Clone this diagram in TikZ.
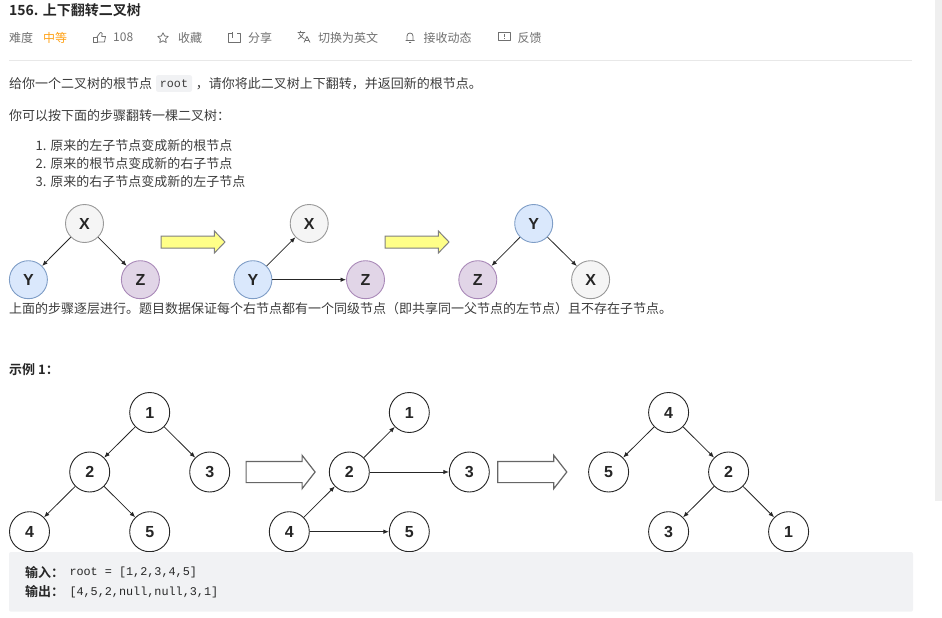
\documentclass[tikz,border=0pt]{standalone}
\usepackage{fontspec}
\setmainfont{Liberation Sans}
\setmonofont{Liberation Mono}
\newfontfamily\cjk{Noto Sans CJK SC}
\newfontfamily\cjkb{Noto Sans CJK SC Bold}
\usetikzlibrary{arrows.meta,positioning,shapes.arrows}
\definecolor{inkline}{HTML}{262626}
\definecolor{bodycol}{HTML}{3C3C3C}
\definecolor{metacol}{HTML}{707070}
\definecolor{easycol}{HTML}{FFA116}
\definecolor{rulecol}{HTML}{E8E8E8}
\definecolor{codefill}{HTML}{F1F2F4}
\definecolor{scrollcol}{HTML}{EFEFEF}
\definecolor{xfill}{HTML}{F5F5F5}
\definecolor{xline}{HTML}{999999}
\definecolor{yfill}{HTML}{DAE8FC}
\definecolor{yline}{HTML}{7E9DC6}
\definecolor{zfill}{HTML}{E1D5E7}
\definecolor{zline}{HTML}{A989B8}
\definecolor{yelfill}{HTML}{FFFF88}
\definecolor{yelline}{HTML}{7F7F7F}

\begin{document}
\begin{tikzpicture}[
  x=1pt, y=-1pt,
  >={Latex[length=5.5pt,width=4.5pt]},
  txt/.style={anchor=west, inner sep=0pt, font=\fontsize{13}{15}\selectfont\cjk, text=bodycol},
  meta/.style={txt, font=\fontsize{12}{15}\selectfont\cjk, text=metacol},
  boldtxt/.style={txt, font=\fontsize{13}{15}\selectfont\cjkb, text=inkline},
  mono/.style={txt, font=\fontsize{11.8}{14}\selectfont\ttfamily, text=inkline},
  icon/.style={draw=metacol, line width=0.8pt, line join=round},
  nx/.style={circle, draw=xline, fill=xfill, line width=0.9pt, minimum size=38pt, inner sep=0pt, font=\fontsize{16}{16}\selectfont\bfseries, text=inkline},
  ny/.style={nx, draw=yline, fill=yfill},
  nz/.style={nx, draw=zline, fill=zfill},
  num/.style={circle, draw=inkline, fill=white, line width=0.9pt, minimum size=40pt, inner sep=0pt, font=\fontsize{16}{16}\selectfont\bfseries, text=inkline},
  arr/.style={->, draw=inkline, line width=0.8pt},
  bigarr/.style={single arrow, anchor=tail, draw=yelline, fill=yelfill, line width=1pt, minimum height=64pt, inner xsep=0pt, inner ysep=5.5pt,
                 single arrow head extend=5pt, single arrow tip angle=92},
  hollowarr/.style={bigarr, draw=black!60, fill=white, line width=1.2pt, minimum height=69pt, inner ysep=10pt,
                 single arrow head extend=6pt, single arrow tip angle=104},
]
\useasboundingbox (0,0) rectangle (942,618);

% ---- header ----
\node[boldtxt, font=\fontsize{14}{16}\selectfont\cjkb] (title) at (9,10) {156. 上下翻转二叉树};
\node[meta] (lvl) at (9,37.7) {难度};
\node[meta, text=easycol] (med) at (43,37.7) {中等};
\node[meta] (likes) at (113,37.7) {108};
\node[meta] (fav) at (178,37.7) {收藏};
\node[meta] (share) at (248,37.7) {分享};
\node[meta] (lang) at (318,37.7) {切换为英文};
\node[meta] (sub) at (423.5,37.7) {接收动态};
\node[meta] (fb) at (517.5,37.7) {反馈};

% thumb
\draw[icon] (93.5,37) rectangle (97,42);
\draw[icon] (97,37) -- (100,32.8) -- (101,32.5) -- (102.2,33.5) -- (101.7,36.5) -- (105.5,36.5) -- (104.5,42) -- (97,42);
% star
\draw[icon] (163,32.8) -- (164.6,36) -- (168.2,36.5) -- (165.6,39) -- (166.2,42.5) -- (163,40.8) -- (159.8,42.5) -- (160.4,39) -- (157.8,36.5) -- (161.4,36) -- cycle;
% share
\draw[icon] (232.5,33.5) -- (228.5,33.5) -- (228.5,42) -- (240,42) -- (240,33.5) -- (236.5,33.5);
\draw[icon] (232.5,32.5) -- (232.5,38.5);
% translate
\draw[icon] (297.5,32.5) -- (305,32.5) (300.5,31) -- (300.5,32.5) (303.5,32.5) .. controls (302.5,36) and (300.5,38) .. (298,39) (299,33.5) .. controls (300,36) and (302,38) .. (304.5,39);
\draw[icon] (304,42.5) -- (307,36.5) -- (310,42.5) (305.2,40.5) -- (308.8,40.5);
% bell
\draw[icon] (407,40.5) -- (407,36) .. controls (407,32) and (413,32) .. (413,36) -- (413,40.5) (405.5,40.5) -- (414.5,40.5) (409,42.5) -- (411,42.5);
% feedback
\draw[icon] (498.5,32) -- (510,32) -- (510,40.5) -- (498.5,40.5) -- cycle;
\draw[icon] (504.2,34) -- (504.2,37) (504.2,38) -- (504.2,39);

\draw[rulecol, line width=0.8pt] (9,60.5) -- (912,60.5);

% ---- statement ----
\node[txt] (intro) at (9,84) {给你一个二叉树的根节点};
\node[fill=codefill, rounded corners=2pt, minimum width=36pt, minimum height=16.7pt, inner sep=0pt,
      font=\fontsize{11.7}{12}\selectfont\ttfamily, text=bodycol] (rootcode) at (174,83.5) {root};
\node[txt, right=3.5pt of rootcode] (intro2) {，请你将此二叉树上下翻转，并返回新的根节点。};
\node[txt] (steps) at (9,115.7) {你可以按下面的步骤翻转一棵二叉树：};
\node[txt] (s1) at (35.5,145.7) {1. 原来的左子节点变成新的根节点};
\node[txt] (s2) at (35.5,164) {2. 原来的根节点变成新的右子节点};
\node[txt] (s3) at (35.5,182) {3. 原来的右子节点变成新的左子节点};

% ---- XYZ trees ----
\node[nx] (ax) at (84.5,223.5) {X};
\node[ny] (ay) at (28.4,279.7) {Y};
\node[nz] (az) at (140.4,279.7) {Z};
\draw[arr] (ax) -- (ay);
\draw[arr] (ax) -- (az);
\node[bigarr] (y1) at (160.5,242) {};
\node[nx] (bx) at (309.2,223.5) {X};
\node[ny] (by) at (252.9,279.7) {Y};
\node[nz] (bz) at (365.5,279.7) {Z};
\draw[arr] (by) -- (bx);
\draw[arr] (by) -- (bz);
\node[bigarr] (y2) at (384.5,242) {};
\node[ny] (cy) at (533.7,223.5) {Y};
\node[nz] (cz) at (477.8,279.7) {Z};
\node[nx] (cx) at (590.6,279.7) {X};
\draw[arr] (cy) -- (cz);
\draw[arr] (cy) -- (cx);

\node[txt] (note) at (9,308.5) {上面的步骤逐层进行。题目数据保证每个右节点都有一个同级节点（即共享同一父节点的左节点）且不存在子节点。};
\node[boldtxt] (ex) at (9,370) {示例 1：};

% ---- number trees ----
\node[num] (p1) at (149.7,412.5) {1};
\node[num] (p2) at (89.7,472) {2};
\node[num] (p3) at (209.7,472) {3};
\node[num] (p4) at (29.5,531.7) {4};
\node[num] (p5) at (149.7,531.7) {5};
\draw[arr] (p1) -- (p2);
\draw[arr] (p1) -- (p3);
\draw[arr] (p2) -- (p4);
\draw[arr] (p2) -- (p5);
\node[hollowarr] (h1) at (245.5,472) {};
\node[num] (q1) at (409.3,412.5) {1};
\node[num] (q2) at (349.3,472) {2};
\node[num] (q3) at (469.3,472) {3};
\node[num] (q4) at (289.3,531.7) {4};
\node[num] (q5) at (409.3,531.7) {5};
\draw[arr] (q2) -- (q1);
\draw[arr] (q2) -- (q3);
\draw[arr] (q4) -- (q2);
\draw[arr] (q4) -- (q5);
\node[hollowarr] (h2) at (497.2,472) {};
\node[num] (r4) at (668.6,412.5) {4};
\node[num] (r5) at (608.6,472) {5};
\node[num] (r2) at (728.6,472) {2};
\node[num] (r3) at (668.6,531.7) {3};
\node[num] (r1) at (788.6,531.7) {1};
\draw[arr] (r4) -- (r5);
\draw[arr] (r4) -- (r2);
\draw[arr] (r2) -- (r3);
\draw[arr] (r2) -- (r1);

% ---- example box ----
\fill[codefill, rounded corners=2pt] (9,552) rectangle (913,611.7);
\node[boldtxt] (inlab) at (25,572) {输入：};
\node[mono] (inval) at (69.3,572) {root = [1,2,3,4,5]};
\node[boldtxt] (outlab) at (25,592) {输出：};
\node[mono] (outval) at (69.3,592) {[4,5,2,null,null,3,1]};

% scrollbar
\fill[scrollcol] (935,0) rectangle (942,500.5);
\end{tikzpicture}
\end{document}
